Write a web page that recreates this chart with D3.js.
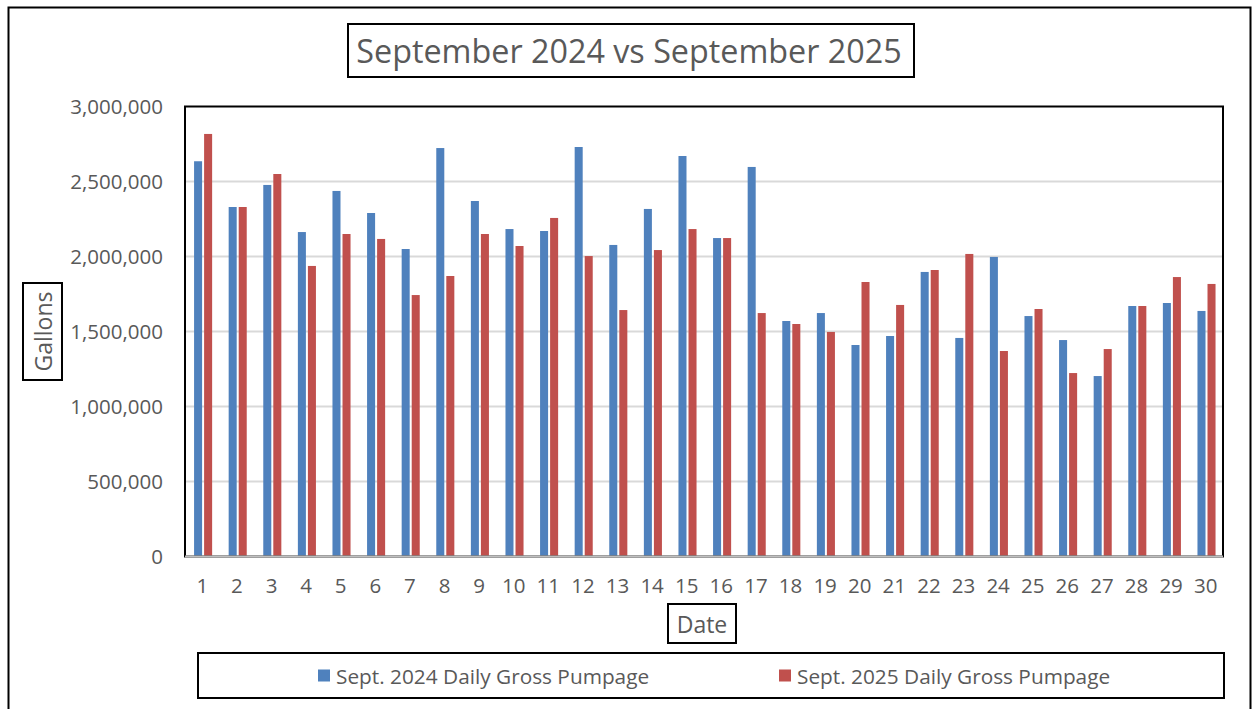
<!DOCTYPE html>
<html>
<head>
<meta charset="utf-8">
<script src="https://cdn.jsdelivr.net/npm/d3@7"></script>
<style>
  html, body { margin: 0; padding: 0; background: #fff; }
  svg { display: block; }
  text { font-family: "Open Sans", sans-serif; fill: #595959; }
</style>
</head>
<body>
<svg id="chart" width="1253" height="709"></svg>
<script>
const days = d3.range(1, 31).map(String);
const series = ["Sept. 2024 Daily Gross Pumpage", "Sept. 2025 Daily Gross Pumpage"];
const colors = ["#4F81BD", "#C0504D"];
const values2024 = [2635000, 2330000, 2477000, 2163000, 2437000, 2290000, 2050000, 2723000, 2370000, 2183000,
                    2170000, 2730000, 2077000, 2317000, 2670000, 2123000, 2597000, 1570000, 1623000, 1410000,
                    1470000, 1897000, 1457000, 1997000, 1603000, 1443000, 1203000, 1670000, 1690000, 1637000];
const values2025 = [2817000, 2330000, 2550000, 1937000, 2150000, 2117000, 1743000, 1870000, 2150000, 2070000,
                    2257000, 2003000, 1643000, 2043000, 2183000, 2123000, 1623000, 1550000, 1497000, 1830000,
                    1677000, 1910000, 2017000, 1370000, 1650000, 1223000, 1383000, 1670000, 1863000, 1817000];
const yTicks = [0, 500000, 1000000, 1500000, 2000000, 2500000, 3000000];
const titleText = "September 2024 vs September 2025";
const yTitle = "Gallons";
const xTitle = "Date";

const svg = d3.select("#chart");
const plot = { left: 185, top: 106.5, right: 1223, bottom: 556.5 };

// outer border
svg.append("rect").attr("x", 8.5).attr("y", 7.5).attr("width", 1242).attr("height", 720)
  .attr("fill", "none").attr("stroke", "#000").attr("stroke-width", 2);

const x0 = d3.scaleBand().domain(days).range([plot.left, plot.right]).padding(0);
const bw = x0.bandwidth();
const barW = bw * 0.232, gap = bw * 0.058;
const x1 = d3.scaleOrdinal().domain([0, 1]).range([-(barW + gap / 2), gap / 2]);
const y = d3.scaleLinear().domain([0, 3000000]).range([plot.bottom, plot.top]);

// gridlines
svg.append("g").selectAll("line").data(yTicks.filter(d => d > 0 && d < 3000000)).join("line")
  .attr("x1", plot.left).attr("x2", plot.right)
  .attr("y1", d => y(d)).attr("y2", d => y(d))
  .attr("stroke", "#D9D9D9").attr("stroke-width", 2);

// bars
const data = days.map((d, i) => ({ day: d, vals: [values2024[i], values2025[i]] }));
const groups = svg.append("g").selectAll("g").data(data).join("g")
  .attr("transform", d => `translate(${x0(d.day) + bw / 2 + 0.8},0)`);
groups.selectAll("rect").data(d => d.vals.map((v, k) => ({ v, k }))).join("rect")
  .attr("x", d => x1(d.k)).attr("width", barW)
  .attr("y", d => y(d.v)).attr("height", d => y(0) - y(d.v))
  .attr("fill", d => colors[d.k]);

// plot border
svg.append("rect").attr("x", plot.left).attr("y", plot.top)
  .attr("width", plot.right - plot.left).attr("height", plot.bottom - plot.top)
  .attr("fill", "none").attr("stroke", "#000").attr("stroke-width", 2);
svg.append("line").attr("x1", plot.left).attr("x2", plot.right)
  .attr("y1", plot.bottom).attr("y2", plot.bottom)
  .attr("stroke", "#BFBFBF").attr("stroke-width", 2);

// y axis
const yAxis = d3.axisLeft(y).tickValues(yTicks).tickFormat(d3.format(",")).tickSize(0).tickPadding(22);
const yg = svg.append("g").attr("transform", `translate(${plot.left},0)`).call(yAxis);
yg.select(".domain").remove();
yg.selectAll("text").style("font-size", "20.5px").style("fill", "#595959").attr("font-family", "Open Sans");

// x axis
const xAxis = d3.axisBottom(x0).tickSize(0).tickPadding(22);
const xg = svg.append("g").attr("transform", `translate(0,${plot.bottom})`).call(xAxis);
xg.select(".domain").remove();
xg.selectAll("text").style("font-size", "20.5px").style("fill", "#595959").attr("font-family", "Open Sans");

// title
svg.append("rect").attr("x", 348).attr("y", 24).attr("width", 566).attr("height", 53)
  .attr("fill", "#fff").attr("stroke", "#000").attr("stroke-width", 2);
svg.append("text").attr("x", 629).attr("y", 50).attr("text-anchor", "middle")
  .attr("dominant-baseline", "central").style("font-size", "32.3px").text(titleText);

// y title
svg.append("rect").attr("x", 23).attr("y", 283).attr("width", 39).attr("height", 97)
  .attr("fill", "#fff").attr("stroke", "#000").attr("stroke-width", 2);
svg.append("text").attr("transform", "translate(43,331.5) rotate(-90)").attr("text-anchor", "middle")
  .attr("dominant-baseline", "central").style("font-size", "23px").text(yTitle);

// x title
svg.append("rect").attr("x", 668).attr("y", 604).attr("width", 68).attr("height", 39)
  .attr("fill", "#fff").attr("stroke", "#000").attr("stroke-width", 2);
svg.append("text").attr("x", 702).attr("y", 623.5).attr("text-anchor", "middle")
  .attr("dominant-baseline", "central").style("font-size", "23px").text(xTitle);

// legend
svg.append("rect").attr("x", 198).attr("y", 653).attr("width", 1026).attr("height", 45)
  .attr("fill", "#fff").attr("stroke", "#000").attr("stroke-width", 2);
const legX = [318, 779];
const lg = svg.append("g").selectAll("g").data(series).join("g")
  .attr("transform", (d, i) => `translate(${legX[i]},675.5)`);
lg.append("rect").attr("x", 0).attr("y", -6).attr("width", 12).attr("height", 12)
  .attr("fill", (d, i) => colors[i]);
lg.append("text").attr("x", 18).attr("y", 0).attr("dominant-baseline", "central")
  .style("font-size", "20.8px").text(d => d);
</script>
</body>
</html>
